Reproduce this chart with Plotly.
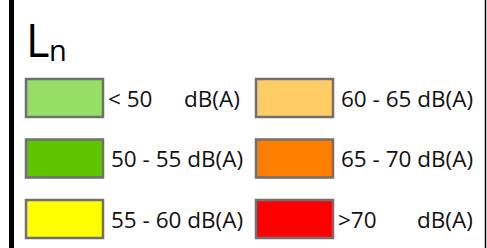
import plotly.graph_objects as go

# ---- data ----
title_main = "L"
title_sub = "n"
range_labels = ["< 50", "50 - 55", "55 - 60", "60 - 65", "65 - 70", ">70"]
unit_label = "dB(A)"
fill_colors = ["#95e064", "#5fc400", "#ffff00", "#ffcc66", "#ff8000", "#ff0000"]
split_unit = [True, False, False, False, False, True]

W, H = 487, 248
FONT = "Open Sans, sans-serif"
FS = 22.5

col_x0 = [26, 256]
box_w = 77
row_y0 = [79, 139.5, 200]
box_h = 38
text_right = [242, 475]

fig = go.Figure()
shapes = []
annotations = []

for i, (lab, col, split) in enumerate(zip(range_labels, fill_colors, split_unit)):
    c, r = divmod(i, 3)
    x0 = col_x0[c]
    y0 = row_y0[r]
    shapes.append(dict(type="rect", xref="x", yref="y",
                       x0=x0, x1=x0 + box_w, y0=y0, y1=y0 + box_h,
                       fillcolor=col, line=dict(color="#707070", width=2.5)))
    yc = y0 + box_h / 2
    if split:
        annotations.append(dict(x=x0 + box_w + 3, y=yc, text=lab, showarrow=False,
                                xanchor="left", yanchor="middle", xref="x", yref="y",
                                font=dict(size=FS, color="#111111", family=FONT)))
        annotations.append(dict(x=text_right[c], y=yc, text=unit_label, showarrow=False,
                                xanchor="right", yanchor="middle", xref="x", yref="y",
                                font=dict(size=FS, color="#111111", family=FONT)))
    else:
        annotations.append(dict(x=x0 + box_w + 6, y=yc, text=lab + " " + unit_label,
                                showarrow=False, xanchor="left", yanchor="middle",
                                xref="x", yref="y",
                                font=dict(size=FS, color="#111111", family=FONT)))

# title (main letter + subscript as separate texts)
annotations.append(dict(x=24, y=39, text=title_main, showarrow=False,
                        xanchor="left", yanchor="middle", xref="x", yref="y",
                        font=dict(size=45, color="#000000", family=FONT)))
annotations.append(dict(x=47, y=49, text=title_sub, showarrow=False,
                        xanchor="left", yanchor="middle", xref="x", yref="y",
                        font=dict(size=29, color="#000000", family=FONT)))

# frame lines
shapes.append(dict(type="line", xref="x", yref="y", x0=11.5, x1=11.5, y0=0, y1=H,
                   line=dict(color="#000000", width=5)))
shapes.append(dict(type="line", xref="x", yref="y", x0=485.5, x1=485.5, y0=0, y1=H,
                   line=dict(color="#000000", width=1.5)))

fig.update_layout(
    width=W, height=H, margin=dict(l=0, r=0, t=0, b=0),
    paper_bgcolor="white", plot_bgcolor="white",
    xaxis=dict(range=[0, W], visible=False, fixedrange=True),
    yaxis=dict(range=[H, 0], visible=False, fixedrange=True),
    shapes=shapes, annotations=annotations, showlegend=False,
)
fig.write_html("out.html", config={"displayModeBar": False},
               post_script="document.body.style.margin='0';document.body.style.overflow='hidden';")
